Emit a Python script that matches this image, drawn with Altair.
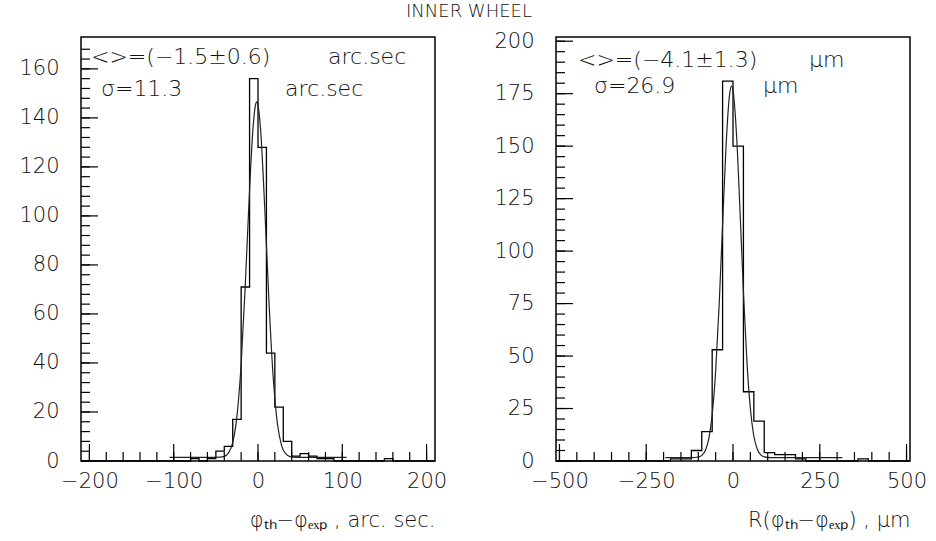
import altair as alt
import pandas as pd

# ---------------- data ----------------
# Left panel: phi_th - phi_exp [arc sec], 42 bins of 10 from -210 to 210
left_lo, left_w = -210, 10
left_counts = [0, 0, 0, 0, 0, 0, 0, 0, 0, 0, 0, 0, 0,
               1, 0, 1, 4, 6, 17, 71, 156, 128, 44, 22, 8, 2, 3, 2, 1, 1,
               0, 0, 0, 0, 0, 0, 1, 0, 0, 0, 0, 0]
left_fit_x = [-105, -60, -45, -40, -35, -30, -25, -20, -15, -10, -6, -3, -1.5,
              0, 3, 8, 13, 18, 23, 28, 33, 38, 45, 60, 105]
left_fit_y = [1.5, 1.5, 1.6, 1.9, 3.3, 7.5, 18.2, 39.5, 72.5, 110.7, 135.5, 145.2, 146.5,
              145.2, 135.5, 103.3, 65.2, 34.3, 15.3, 6.3, 2.9, 1.8, 1.5, 1.5, 1.5]

# Right panel: R(phi_th - phi_exp) [um], 34 bins of 30 from -510 to 510
right_lo, right_w = -510, 30
right_counts = [0, 0, 0, 0, 0, 0, 0, 0, 0, 0, 0,
                1, 1, 5, 14, 53, 181, 150, 33, 19, 4, 3, 3, 1,
                0, 0, 0, 0, 0, 1, 0, 0, 0, 0]
right_fit_x = [-195, -120, -100, -90, -80, -70, -60, -50, -40, -30, -20, -10, -4,
               0, 10, 20, 30, 40, 50, 60, 70, 80, 90, 110, 315]
right_fit_y = [1.6, 1.6, 1.9, 2.7, 4.9, 10.4, 22.0, 42.8, 74.1, 112.8, 150.2, 174.4, 178.6,
               176.6, 155.9, 120.0, 80.7, 47.7, 25.1, 11.9, 5.6, 2.9, 2.0, 1.6, 1.6]

left_xlabels = [-200, -100, 0, 100, 200]
left_ylabels = [0, 20, 40, 60, 80, 100, 120, 140, 160]
right_xlabels = [-500, -250, 0, 250, 500]
right_ylabels = [0, 25, 50, 75, 100, 125, 150, 175, 200]

title_text = "INNER WHEEL"
left_xtitle = "φₜₕ−φₑₓₚ , arc. sec."
right_xtitle = "R(φₜₕ−φₑₓₚ) , μm"
left_notes = ["<>=(−1.5±0.6)", "arc.sec", "σ=11.3", "arc.sec"]
right_notes = ["<>=(−4.1±1.3)", "μm", "σ=26.9", "μm"]

# ---------------- styling / layout ----------------
FONT = "DejaVu Sans"
W, H = 354, 424
INK = "#111111"


def panel(lo, w, counts, fx, fy, xdom, ydom, xlabels, ylabels,
          xminor, xmajor, yminor, ymajor, xtitle, notes, note_pos, extra_text=None):
    xs = alt.Scale(domain=xdom, nice=False, zero=False)
    ys = alt.Scale(domain=ydom, nice=False, zero=False)
    xax = alt.Axis(
        values=xlabels, format="d", ticks=False, tickSize=0, domain=False, grid=False,
        labelFont=FONT, labelFontSize=21, labelColor=INK, labelPadding=9,
        labelFlush=False, labelOverlap=False, labelFontWeight=200,
        title=xtitle, titleFont=FONT, titleFontSize=21, titleFontWeight=200,
        titleColor=INK, titleAnchor="end", titleAlign="right", titlePadding=18)
    yax = alt.Axis(
        values=ylabels, format="d", ticks=False, tickSize=0, domain=False, grid=False,
        labelFont=FONT, labelFontSize=21, labelColor=INK, labelPadding=22,
        labelFlush=False, labelOverlap=False, labelFontWeight=200,
        minExtent=80, maxExtent=80, title=None)
    X = lambda f: alt.X(f, scale=xs, axis=xax)
    Y = lambda f: alt.Y(f, scale=ys, axis=yax)

    edges = [lo + w * i for i in range(len(counts) + 1)]
    hist = pd.DataFrame({"x": edges, "y": counts + [counts[-1]]})
    base = alt.Chart(hist).mark_line(
        interpolate="step-after", color="black", strokeWidth=1.3
    ).encode(x=X("x:Q"), y=Y("y:Q"))
    fit = alt.Chart(pd.DataFrame({"x": fx, "y": fy})).mark_line(
        interpolate="monotone", color="#222222", strokeWidth=1.2
    ).encode(x=X("x:Q"), y=Y("y:Q"))

    def xt(vals, ln):
        return alt.Chart(pd.DataFrame({"x": vals})).mark_rule(
            color="black", strokeWidth=1.2
        ).encode(x=X("x:Q"), y=alt.value(H), y2=alt.value(H - ln))

    def yt(vals, ln):
        return alt.Chart(pd.DataFrame({"y": vals})).mark_rule(
            color="black", strokeWidth=1.2
        ).encode(y=Y("y:Q"), x=alt.value(0), x2=alt.value(ln))

    tdf = pd.DataFrame({"t": notes, "px": [p[0] for p in note_pos], "py": [p[1] for p in note_pos]})
    txt = alt.Chart(tdf).mark_text(
        align="left", baseline="alphabetic", font=FONT, fontSize=22, fontWeight=200, color=INK
    ).encode(x=alt.X("px:Q", scale=None), y=alt.Y("py:Q", scale=None), text="t:N")

    layers = [base, fit, xt(xminor, 9), xt(xmajor, 17), yt(yminor, 9), yt(ymajor, 17), txt]
    if extra_text is not None:
        layers.append(extra_text)
    return alt.layer(*layers).properties(width=W, height=H)


title_df = pd.DataFrame({"t": [title_text], "px": [388], "py": [-34]})
title_mark = alt.Chart(title_df).mark_text(
    align="center", baseline="top", font=FONT, fontSize=18, fontWeight=200, color=INK
).encode(x=alt.X("px:Q", scale=None), y=alt.Y("py:Q", scale=None), text="t:N")

left = panel(left_lo, left_w, left_counts, left_fit_x, left_fit_y, [-210, 210], [0, 173],
             left_xlabels, left_ylabels,
             list(range(-200, 201, 20)), list(range(-200, 201, 100)),
             list(range(0, 171, 4)), list(range(0, 161, 20)),
             left_xtitle, left_notes, [(10, 27), (247, 27), (20, 59), (204, 59)],
             extra_text=title_mark)

right = panel(right_lo, right_w, right_counts, right_fit_x, right_fit_y, [-510, 510], [0, 202],
              right_xlabels, right_ylabels,
              list(range(-500, 501, 50)), list(range(-500, 501, 250)),
              list(range(0, 201, 5)), list(range(0, 201, 25)),
              right_xtitle, right_notes, [(22, 30), (253, 30), (38, 56), (207, 56)])

chart = alt.hconcat(left, right, spacing=121, bounds="flush").properties(
    padding={"left": 0, "top": 2, "right": 0, "bottom": 0},
    background="white",
).configure_view(stroke="black", strokeWidth=1.5)

chart.save("out.html", embed_options={"renderer": "svg", "actions": False})
